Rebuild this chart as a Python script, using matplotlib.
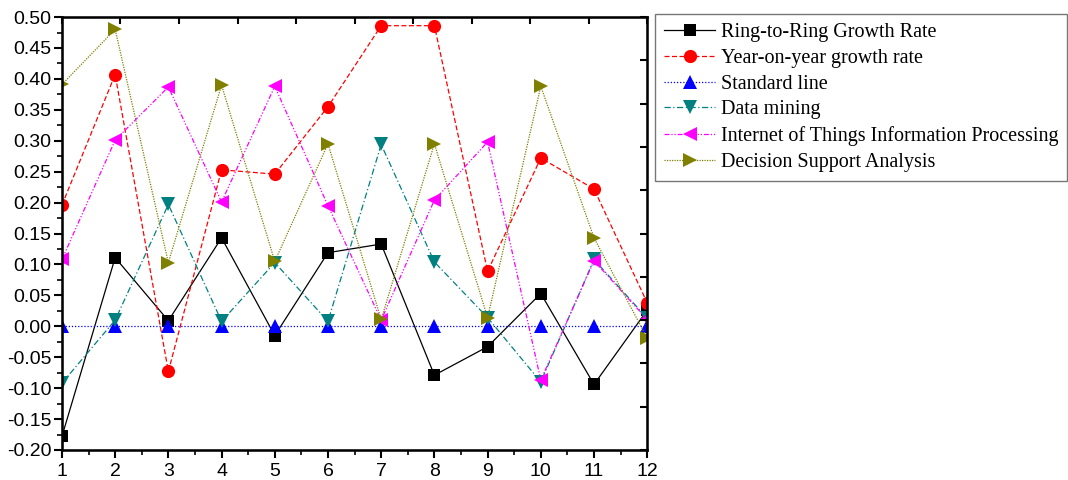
import matplotlib
matplotlib.use("Agg")
import matplotlib.pyplot as plt
from matplotlib.ticker import MultipleLocator

# data
months = [1, 2, 3, 4, 5, 6, 7, 8, 9, 10, 11, 12]
ring_to_ring = [-0.178, 0.111, 0.009, 0.143, -0.015, 0.119, 0.133, -0.079, -0.033, 0.053, -0.094, 0.026]
year_on_year = [0.196, 0.407, -0.073, 0.253, 0.246, 0.355, 0.486, 0.486, 0.089, 0.272, 0.222, 0.038]
standard_line = [0.0] * 12
data_mining = [-0.092, 0.010, 0.197, 0.008, 0.103, 0.008, 0.294, 0.104, 0.014, -0.090, 0.108, 0.013]
iot_processing = [0.108, 0.301, 0.387, 0.201, 0.388, 0.195, 0.010, 0.204, 0.298, -0.087, 0.106, 0.011]
decision_support = [0.391, 0.480, 0.103, 0.390, 0.105, 0.295, 0.011, 0.295, 0.014, 0.388, 0.143, -0.019]

series = [
    ("Ring-to-Ring Growth Rate", ring_to_ring, "black", "-", "s", 8.5),
    ("Year-on-year growth rate", year_on_year, "red", (0, (4, 2)), "o", 9.5),
    ("Standard line", standard_line, "blue", (0, (1, 1.5)), "^", 9.5),
    ("Data mining", data_mining, "#008080", (0, (5, 2, 1, 2)), "v", 9.5),
    ("Internet of Things Information Processing", iot_processing, "magenta", (0, (4, 1.5, 1, 1.5, 1, 1.5)), "<", 9.5),
    ("Decision Support Analysis", decision_support, "#808000", (0, (1, 1)), ">", 9.5),
]

fig = plt.figure(figsize=(10.68, 4.8), dpi=100)
ax = fig.add_axes([0.058, 0.0625, 0.548, 0.902])

for label, vals, color, ls, marker, ms in series:
    ax.plot(months, vals, color=color, linestyle=ls, linewidth=0.9,
            marker=marker, markersize=ms, markeredgewidth=0, label=label)

ax.set_xlim(1, 12)
ax.set_ylim(-0.20, 0.50)
ax.xaxis.set_major_locator(MultipleLocator(1))
ax.xaxis.set_minor_locator(MultipleLocator(0.5))
ax.yaxis.set_major_locator(MultipleLocator(0.05))
ax.yaxis.set_minor_locator(MultipleLocator(0.025))
ax.yaxis.set_major_formatter(plt.FuncFormatter(lambda v, p: f"{v:.2f}"))
ax.tick_params(which="major", direction="out", length=6, width=1.5, labelsize=14, pad=1.5)
ax.tick_params(axis="x", which="major", pad=3)
ax.tick_params(which="minor", direction="out", length=3.5, width=1.2)
for lab in ax.get_xticklabels() + ax.get_yticklabels():
    lab.set_fontfamily("Liberation Sans")
for sp in ax.spines.values():
    sp.set_linewidth(1.8)

# top / right axes with 10 equal divisions, inward ticks
top = ax.twiny()
top.set_xlim(0, 10)
top.xaxis.set_major_locator(MultipleLocator(1))
top.tick_params(axis="x", direction="in", length=5, width=1.5, labeltop=False)
right = ax.twinx()
right.set_ylim(0, 10)
right.yaxis.set_major_locator(MultipleLocator(1))
right.tick_params(axis="y", direction="in", length=5, width=1.5, labelright=False)

leg = ax.legend(loc="upper left", bbox_to_anchor=(1.014, 1.007), frameon=True, fancybox=False,
                prop={"family": "Liberation Serif", "size": 14.5}, handlelength=2.5,
                handletextpad=0.3, borderpad=0.45, labelspacing=0.33, borderaxespad=0)
leg.get_frame().set_edgecolor("#555555")
leg.get_frame().set_linewidth(1.0)

fig.savefig("out.png", dpi=100)
